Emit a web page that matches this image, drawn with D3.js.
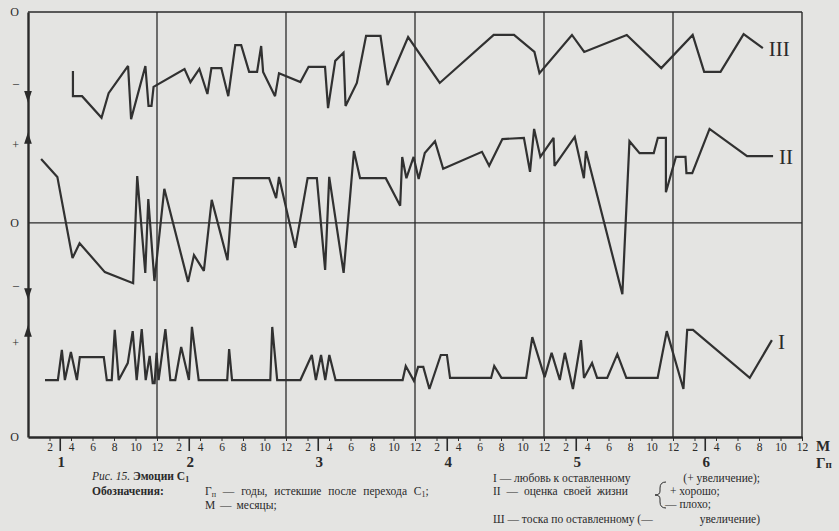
<!DOCTYPE html>
<html><head><meta charset="utf-8">
<script src="https://cdn.jsdelivr.net/npm/d3@7"></script>
<style>body{margin:0;background:#e4e4e2;} svg{display:block;}</style>
</head><body><svg id="c" width="839" height="531"></svg>
<script>
// ---- data (x = months since transition, y = level on a 0..100 chart scale) ----
const years = [1, 2, 3, 4, 5, 6];
const monthLabels = [2, 4, 6, 8, 10, 12];
const yTickValues = [100, 83.3, 68.7, 50.4, 35.8, 22.1, 0];
const yTickLabels = ["O", "–", "+", "O", "–", "+", "O"];
const zeroLineII = 50.4;
const arrowsDown = [80.5, 34.1];
const arrowsUp = [69.9, 24.5];

const seriesIII = [
 [4.18,86.1],[4.18,80.2],[5.03,80.2],[6.84,75.1],[7.50,80.9],[9.31,87.3],[9.59,74.8],[10.92,87.3],
 [11.21,77.9],[11.49,77.9],[11.68,82.4],[14.56,86.6],[15.11,83.5],[15.94,86.6],[16.69,80.7],[17.06,86.8],
 [17.98,86.8],[18.63,80.2],[19.28,92.2],[19.83,92.2],[20.57,85.9],[21.31,85.9],[21.69,92.0],[21.87,85.9],
 [22.98,80.2],[23.35,85.6],[25.34,83.5],[26.10,87.1],[27.63,87.1],[27.91,77.4],[28.58,88.5],[29.35,90.4],
 [29.54,77.9],[30.59,83.3],[31.45,94.4],[32.79,94.4],[33.45,82.8],[35.36,94.1],[38.30,83.3],[43.32,94.6],
 [45.21,94.6],[47.11,90.6],[47.58,85.6],[50.60,94.6],[51.74,90.6],[55.70,94.6],[58.91,86.8],[61.83,94.6],
 [62.90,85.9],[64.42,85.9],[66.57,94.8],[68.36,91.5]
];
const seriesII = [
 [1.22,65.4],[2.73,61.2],[4.14,42.1],[4.80,45.6],[7.15,38.8],[9.78,36.2],[10.16,61.4],[10.91,38.6],
 [11.19,56.0],[11.76,36.7],[12.68,58.4],[14.89,36.5],[15.44,42.8],[16.36,39.1],[17.09,55.8],[18.56,41.6],
 [19.12,60.9],[22.43,60.9],[23.08,56.2],[23.35,61.2],[24.86,44.5],[26.01,60.9],[26.87,60.9],[27.64,39.3],
 [28.02,61.2],[29.36,38.6],[30.32,67.3],[30.89,60.9],[33.28,60.9],[34.62,54.4],[34.81,65.9],[35.20,60.9],
 [35.87,65.9],[36.34,60.7],[36.91,66.8],[37.86,69.6],[38.62,63.1],[42.23,67.1],[42.90,63.8],[44.13,70.1],
 [46.13,70.4],[46.70,62.4],[47.08,72.5],[47.66,65.9],[48.89,70.4],[48.98,63.8],[50.86,70.6],[51.71,60.9],
 [51.90,67.3],[55.29,33.6],[55.95,69.6],[56.89,66.8],[58.21,66.8],[58.59,70.4],[59.34,70.4],[59.34,57.6],
 [60.27,65.9],[61.16,65.9],[61.25,62.1],[61.79,62.1],[63.40,72.5],[66.89,66.1],[69.31,66.1]
];
const seriesI = [
 [1.58,13.4],[2.78,13.4],[3.15,20.5],[3.43,13.4],[3.99,20.0],[4.55,13.4],[4.82,18.8],[7.05,18.8],
 [7.33,13.4],[7.79,13.4],[8.07,25.2],[8.44,13.4],[9.28,17.4],[9.74,24.9],[10.11,13.4],[10.58,25.4],
 [10.95,13.4],[11.32,19.1],[11.60,12.7],[11.78,12.7],[11.96,19.8],[12.15,13.4],[12.78,25.4],[13.24,13.4],
 [13.70,13.4],[14.25,21.2],[14.97,13.4],[15.25,25.9],[15.88,13.4],[18.53,13.4],[18.71,20.7],[18.98,13.4],
 [22.54,13.4],[22.72,25.9],[23.18,13.4],[25.34,13.4],[26.40,19.3],[26.78,13.4],[27.26,19.3],[27.65,13.4],
 [28.03,19.3],[28.61,13.4],[34.85,13.4],[35.14,16.7],[35.90,13.2],[36.29,16.5],[36.77,16.5],[37.34,11.3],
 [38.40,19.3],[38.97,19.3],[39.26,13.9],[43.08,13.9],[43.37,16.7],[44.04,13.9],[46.34,13.9],[46.91,23.5],
 [48.06,14.1],[48.71,19.8],[49.47,13.4],[49.94,19.8],[50.69,11.3],[51.44,22.8],[51.72,13.9],[52.47,17.4],
 [52.94,13.9],[53.88,13.9],[54.82,19.5],[55.66,13.9],[58.57,13.9],[59.42,24.9],[60.97,11.3],[61.32,25.2],
 [61.86,25.2],[67.14,13.9],[69.20,22.8]
];
const seriesNames = ["III", "II", "I"];

// ---- drawing ----
const svg = d3.select("#c");
const ink = "#2a2a2a";
const serif = "'Liberation Serif', 'DejaVu Serif', serif";
const x = d3.scaleLinear().domain([0, 72]).range([28, 802]);
const y = d3.scaleLinear().domain([0, 100]).range([437, 12]);

// frame + grid
const g = svg.append("g");
g.append("line").attr("x1", x(0)).attr("x2", x(72)).attr("y1", y(100)).attr("y2", y(100)).attr("stroke", ink).attr("stroke-width", 1.4);
g.append("line").attr("x1", x(72)).attr("x2", x(72)).attr("y1", y(100)).attr("y2", y(0)).attr("stroke", ink).attr("stroke-width", 1.4);
g.append("line").attr("x1", x(0)).attr("x2", x(72)).attr("y1", y(zeroLineII)).attr("y2", y(zeroLineII)).attr("stroke", ink).attr("stroke-width", 1.2);
g.selectAll(".vl").data(d3.range(12, 72, 12)).join("line")
  .attr("x1", d => x(d)).attr("x2", d => x(d)).attr("y1", y(100)).attr("y2", y(0))
  .attr("stroke", ink).attr("stroke-width", 1.3);

// bottom axis
const xAxis = d3.axisBottom(x)
  .tickValues(d3.range(2, 73, 2))
  .tickFormat(d => monthLabels[((d % 12 === 0 ? 12 : d % 12) / 2) - 1])
  .tickSize(4).tickSizeOuter(0).tickPadding(2);
const ax = svg.append("g").attr("transform", `translate(0,${y(0)})`).call(xAxis);
ax.select(".domain").attr("stroke", ink).attr("stroke-width", 2.6);
ax.selectAll(".tick line").attr("stroke", ink).attr("stroke-width", 1);
ax.selectAll(".tick text").attr("font-family", serif).attr("font-size", 11.5).attr("fill", ink);
svg.selectAll(".ym").data(years).join("line")
  .attr("x1", d => x((d - 1) * 12 + 3)).attr("x2", d => x((d - 1) * 12 + 3))
  .attr("y1", y(0)).attr("y2", y(0) + 14).attr("stroke", ink).attr("stroke-width", 1.6);
svg.selectAll(".yl").data(years).join("text")
  .attr("x", d => x((d - 1) * 12 + 3) + 1).attr("y", y(0) + 30)
  .attr("text-anchor", "middle").attr("font-family", serif).attr("font-weight", "bold")
  .attr("font-size", 15).attr("fill", ink).text(d => d);
svg.append("text").attr("x", x(72) + 14).attr("y", y(0) + 14).attr("font-family", serif)
  .attr("font-weight", "bold").attr("font-size", 15).attr("fill", ink).text("М");
const gp = svg.append("text").attr("x", x(72) + 14).attr("y", y(0) + 31).attr("font-family", serif)
  .attr("font-weight", "bold").attr("font-size", 15).attr("fill", ink);
gp.append("tspan").text("Г");
gp.append("tspan").attr("font-size", 11).text("п");

// left axis
const yAxis = d3.axisLeft(y).tickValues(yTickValues)
  .tickFormat((d, i) => yTickLabels[i]).tickSize(0).tickPadding(9);
const ay = svg.append("g").attr("transform", `translate(${x(0)},0)`).call(yAxis);
ay.select(".domain").attr("stroke", ink).attr("stroke-width", 2.4);
ay.selectAll(".tick text").attr("font-family", serif).attr("font-size", 12).attr("fill", ink);
const tri = d3.symbol().type(d3.symbolTriangle).size(40);
svg.selectAll(".ad").data(arrowsDown).join("path").attr("d", tri)
  .attr("transform", d => `translate(${x(0)},${y(d)}) rotate(180) scale(0.8,1.4)`).attr("fill", ink);
svg.selectAll(".au").data(arrowsUp).join("path").attr("d", tri)
  .attr("transform", d => `translate(${x(0)},${y(d)}) scale(0.8,1.4)`).attr("fill", ink);

// series
const line = d3.line().x(d => x(d[0])).y(d => y(d[1]));
[seriesIII, seriesII, seriesI].forEach((s, i) => {
  svg.append("path").datum(s).attr("d", line).attr("fill", "none")
    .attr("stroke", "#313131").attr("stroke-width", 2.2)
    .attr("stroke-linejoin", "miter").attr("stroke-miterlimit", 3);
  const last = s[s.length - 1];
  svg.append("text").attr("x", x(last[0]) + 6).attr("y", y(last[1]) + (i === 2 ? 9 : 8))
    .attr("font-family", serif).attr("font-size", 21).attr("fill", ink).text(seriesNames[i]);
});

// caption, left block
const cap = svg.append("g").attr("font-family", serif).attr("font-size", 11.5).attr("fill", ink);
const t1 = cap.append("text").attr("x", 92).attr("y", 480);
t1.append("tspan").attr("font-style", "italic").text("Рис. 15.");
t1.append("tspan").attr("font-weight", "bold").text(" Эмоции С");
t1.append("tspan").attr("font-weight", "bold").attr("font-size", 8).attr("dy", 2).text("1");
cap.append("text").attr("x", 92).attr("y", 495).attr("font-weight", "bold").text("Обозначения:");
const t2 = cap.append("text").attr("x", 205).attr("y", 495).attr("word-spacing", 4);
t2.append("tspan").text("Г");
t2.append("tspan").attr("font-size", 8).attr("dy", 2).text("п");
t2.append("tspan").attr("dy", -2).text(" — годы, истекшие после перехода С");
t2.append("tspan").attr("font-size", 8).attr("dy", 2).text("1");
t2.append("tspan").attr("dy", -2).text(";");
cap.append("text").attr("x", 205).attr("y", 509).attr("word-spacing", 2).text("М — месяцы;");

// caption, right block
const cap2 = svg.append("g").attr("font-family", serif).attr("font-size", 11.5).attr("fill", ink);
cap2.append("text").attr("x", 493).attr("y", 482).text("I — любовь к оставленному");
cap2.append("text").attr("x", 760).attr("y", 482).attr("text-anchor", "end").text("(+ увеличение);");
cap2.append("text").attr("x", 493).attr("y", 495).attr("word-spacing", 3).text("II — оценка своей жизни");
cap2.append("text").attr("x", 670).attr("y", 495).text("+ хорошо;");
cap2.append("text").attr("x", 665).attr("y", 508).text("— плохо;");
cap2.append("path")
  .attr("d", "M666,482 Q660,482 660,488 L660,491 Q660,495 655,495 Q660,495 660,499 L660,502 Q660,508 666,508")
  .attr("fill", "none").attr("stroke", ink).attr("stroke-width", 1);
cap2.append("text").attr("x", 493).attr("y", 523).text("Ш — тоска по оставленному (—");
cap2.append("text").attr("x", 760).attr("y", 523).attr("text-anchor", "end").text("увеличение)");
</script>
</body></html>
